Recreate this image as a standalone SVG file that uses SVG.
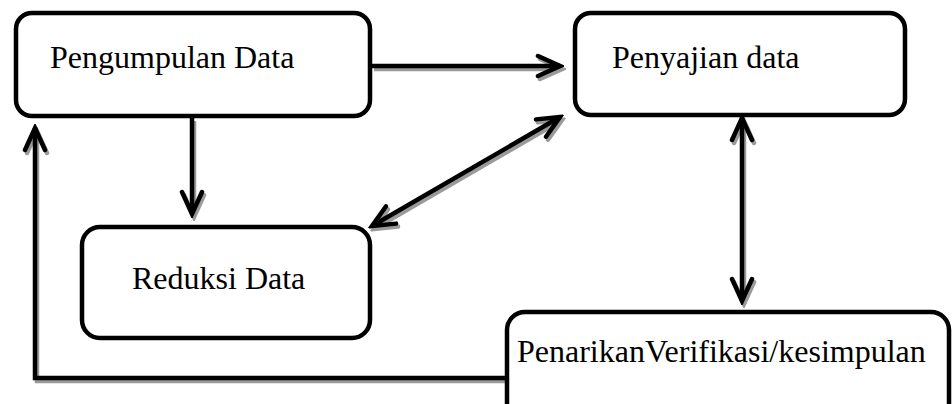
<svg xmlns="http://www.w3.org/2000/svg" width="952" height="404" viewBox="0 0 952 404">
<style>
.box{fill:#fff;stroke:#000;stroke-width:4.5}
.lbl{font-family:"Liberation Serif","Times New Roman",serif;font-size:32px;fill:#000}
.ln{fill:none;stroke:#000;stroke-width:4.5;marker-end:url(#ah)}
.sh{fill:none;stroke:#9a9a9a;stroke-width:4.5;marker-end:url(#ahs)}
.bi{marker-start:url(#ah)}
.bis{marker-start:url(#ahs)}
</style>
<defs>
<marker id="ah" viewBox="-28 -14 32 28" refX="0" refY="0" markerWidth="32" markerHeight="28" markerUnits="userSpaceOnUse" orient="auto-start-reverse">
<path d="M-22,-10 L0,0 L-22,10" fill="none" stroke="#000" stroke-width="4.5" stroke-linecap="round" stroke-linejoin="miter"/>
</marker>
<marker id="ahs" viewBox="-28 -14 32 28" refX="0" refY="0" markerWidth="32" markerHeight="28" markerUnits="userSpaceOnUse" orient="auto-start-reverse">
<path d="M-22,-10 L0,0 L-22,10" fill="none" stroke="#9a9a9a" stroke-width="4.5" stroke-linecap="round" stroke-linejoin="miter"/>
</marker>
</defs>
<g id="connectors">
<g transform="translate(2,3)">
<path class="sh" d="M372,66 L560,66"/>
<path class="sh" d="M192,118 L192,214"/>
<path class="sh bis" d="M372,226 L560,117"/>
<path class="sh bis" d="M742,118 L742,301"/>
<path class="sh" d="M507,378 L35,378 L35,128"/>
</g>
<path class="ln" d="M372,66 L560,66"/>
<path class="ln" d="M192,118 L192,214"/>
<path class="ln bi" d="M372,226 L560,117"/>
<path class="ln bi" d="M742,118 L742,301"/>
<path class="ln" d="M507,378 L35,378 L35,128"/>
</g>
<g id="n1">
<rect class="box" x="16" y="13" width="354" height="103" rx="16"/>
<text class="lbl" x="50" y="68">Pengumpulan Data</text>
</g>
<g id="n2">
<rect class="box" x="575" y="13" width="330" height="102" rx="16"/>
<text class="lbl" x="612" y="68">Penyajian data</text>
</g>
<g id="n3">
<rect class="box" x="82" y="227" width="288" height="111" rx="18"/>
<text class="lbl" x="132" y="289">Reduksi Data</text>
</g>
<g id="n4">
<rect class="box" x="507" y="312" width="442" height="110" rx="18"/>
<text class="lbl" x="517" y="362">PenarikanVerifikasi/kesimpulan</text>
</g>
</svg>
